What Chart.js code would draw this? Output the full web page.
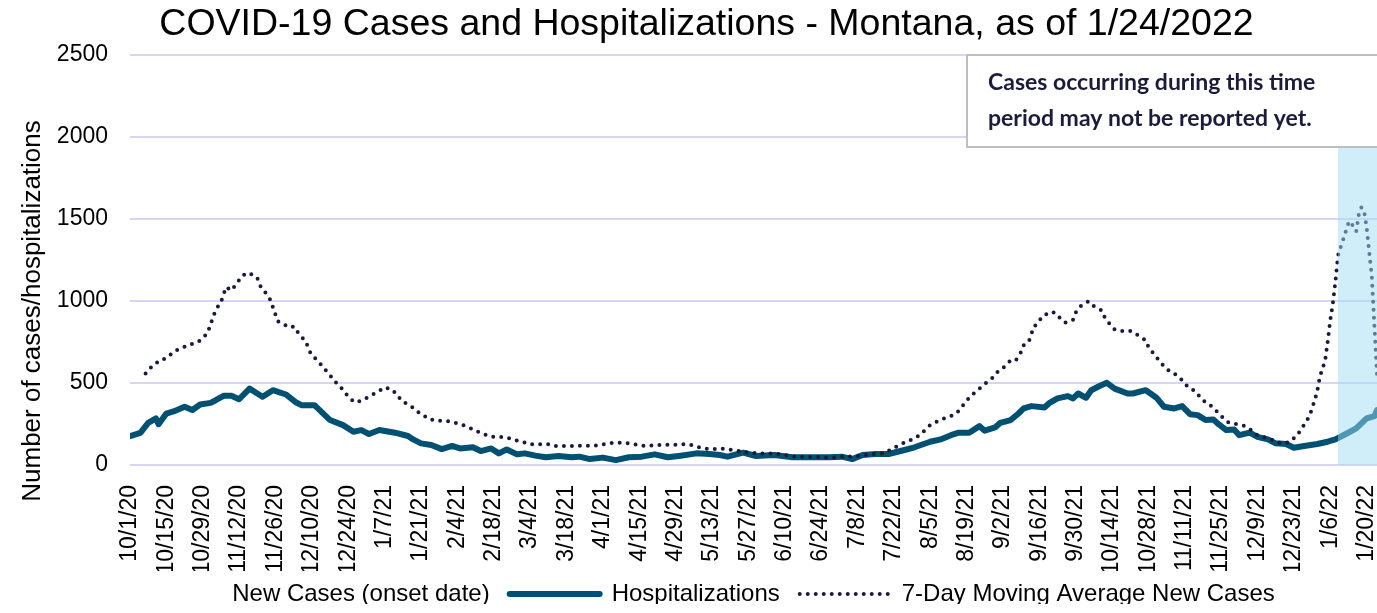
<!DOCTYPE html>
<html>
<head>
<meta charset="utf-8">
<title>COVID-19 Cases and Hospitalizations - Montana</title>
<script src="https://cdn.jsdelivr.net/npm/chart.js@4.4.1/dist/chart.umd.min.js"></script>
<style>
  html, body { margin: 0; padding: 0; background: #fff; }
  #wrap { width: 1377px; height: 613px; }
</style>
</head>
<body>
<div id="wrap"><canvas id="covidChart" width="1377" height="613"></canvas></div>
<script>
// x values are days since 10/1/20 (day 480 = 1/24/22)
const tickLabels = [
  '10/1/20', '10/15/20', '10/29/20', '11/12/20', '11/26/20', '12/10/20', '12/24/20',
  '1/7/21', '1/21/21', '2/4/21', '2/18/21', '3/4/21', '3/18/21', '4/1/21', '4/15/21',
  '4/29/21', '5/13/21', '5/27/21', '6/10/21', '6/24/21', '7/8/21', '7/22/21', '8/5/21',
  '8/19/21', '9/2/21', '9/16/21', '9/30/21', '10/14/21', '10/28/21', '11/11/21',
  '11/25/21', '12/9/21', '12/23/21', '1/6/22', '1/20/22'
];
const lastDay = 480;
const shadeFromDay = 465; // last ~2 weeks, not fully reported yet

// new cases bars are white in the original (invisible), values not readable
const newCases = [];

const hospDays = [
  0, 4, 7, 10, 11, 14, 17, 21, 24, 27,
  31, 33, 36, 39, 42, 46, 49, 51, 55, 60,
  64, 66, 71, 73, 77, 82, 86, 89, 92, 96,
  102, 107, 109, 112, 116, 120, 124, 127, 132, 135,
  139, 142, 145, 149, 152, 156, 160, 165, 170, 173,
  177, 182, 187, 192, 197, 202, 207, 212, 218, 223,
  227, 230, 236, 241, 248, 255, 261, 269, 274, 278,
  282, 287, 292, 297, 302, 308, 312, 316, 319, 323,
  327, 329, 333, 335, 339, 342, 344, 347, 352, 354,
  357, 361, 363, 365, 368, 370, 373, 376, 379, 384,
  386, 391, 395, 398, 402, 405, 408, 411, 414, 417,
  419, 422, 425, 427, 431, 434, 438, 441, 445, 448,
  452, 457, 461, 464, 468, 472, 476, 479, 480
];
const hospValues = [
  176, 196, 257, 284, 249, 314, 328, 355, 335, 369,
  379, 395, 422, 422, 401, 466, 436, 416, 456, 430,
  381, 365, 365, 335, 274, 243, 203, 213, 189, 213,
  197, 177, 156, 132, 122, 97, 116, 101, 108, 85,
  101, 71, 95, 65, 71, 57, 47, 55, 47, 51,
  36, 45, 30, 47, 51, 65, 47, 57, 71, 67,
  61, 51, 75, 55, 61, 47, 47, 47, 51, 36,
  61, 67, 67, 87, 108, 142, 156, 182, 197, 197,
  237, 209, 229, 257, 274, 314, 345, 359, 351, 379,
  406, 420, 406, 436, 410, 456, 480, 501, 466, 436,
  436, 456, 412, 355, 345, 359, 310, 304, 274, 278,
  249, 213, 217, 182, 197, 172, 156, 132, 128, 105,
  116, 128, 142, 156, 189, 223, 284, 298, 335
];

const avgDays = [
  6, 8, 11, 12, 15, 17, 20, 23, 26, 28,
  30, 31, 32, 33, 35, 36, 37, 39, 41, 43,
  45, 47, 49, 50, 52, 54, 55, 56, 57, 59,
  62, 63, 64, 66, 68, 69, 71, 73, 75, 77,
  79, 81, 83, 85, 87, 90, 93, 96, 98, 101,
  103, 105, 108, 110, 113, 115, 118, 121, 124, 127,
  130, 133, 136, 139, 141, 145, 148, 151, 154, 157,
  161, 163, 167, 170, 173, 176, 179, 182, 185, 189,
  192, 195, 198, 201, 204, 207, 210, 214, 217, 220,
  223, 226, 229, 232, 236, 239, 242, 245, 248, 251,
  255, 258, 261, 264, 267, 271, 274, 277, 280, 283,
  286, 290, 292, 295, 298, 301, 304, 306, 308, 311,
  314, 317, 319, 321, 323, 325, 328, 330, 332, 334,
  337, 339, 341, 343, 344, 346, 347, 348, 349, 351,
  354, 356, 358, 360, 363, 364, 366, 369, 371, 374,
  375, 377, 379, 382, 385, 388, 391, 392, 394, 396,
  398, 400, 403, 405, 407, 410, 412, 414, 417, 419,
  421, 423, 426, 429, 432, 434, 437, 440, 443, 446,
  449, 450, 452, 454, 455, 456, 457, 458, 459, 460,
  461, 462, 463, 464, 465, 466, 467, 468, 469, 470,
  471, 472, 473, 474, 475, 476, 477, 478, 479, 480
];
const avgValues = [
  558, 594, 633, 635, 665, 693, 714, 734, 750, 770,
  811, 858, 902, 947, 993, 1040, 1085, 1064, 1105, 1150,
  1172, 1162, 1140, 1095, 1054, 1008, 963, 918, 876, 858,
  838, 846, 821, 785, 740, 695, 655, 622, 584, 547,
  507, 476, 436, 400, 381, 400, 426, 452, 473, 460,
  422, 385, 363, 332, 304, 280, 270, 270, 262, 249,
  233, 209, 189, 172, 172, 168, 152, 142, 126, 126,
  126, 116, 116, 116, 118, 118, 118, 126, 134, 136,
  132, 124, 116, 120, 122, 124, 124, 128, 118, 103,
  98, 97, 99, 91, 81, 75, 71, 69, 71, 63,
  53, 51, 47, 51, 45, 45, 51, 51, 55, 61,
  67, 71, 87, 112, 136, 156, 182, 213, 243, 268,
  288, 304, 330, 371, 410, 440, 480, 507, 531, 568,
  604, 639, 639, 689, 730, 754, 801, 847, 856, 902,
  933, 929, 896, 868, 886, 929, 969, 998, 969, 943,
  906, 862, 827, 817, 817, 791, 760, 720, 679, 639,
  602, 574, 547, 517, 480, 450, 412, 381, 351, 314,
  284, 257, 249, 239, 209, 182, 168, 152, 132, 138,
  176, 199, 247, 298, 345, 395, 450, 537, 588, 633,
  750, 882, 984, 1120, 1277, 1328, 1375, 1425, 1474, 1486,
  1443, 1425, 1527, 1571, 1551, 1450, 1298, 1150, 850, 550
];

const font = "'Liberation Sans', Arial, sans-serif";
Chart.defaults.font.family = font;
Chart.defaults.color = '#000';

// white box with the note, light blue shading over the recent days, y title
const extras = {
  id: 'extras',
  afterLayout(chart) {
    chart.titleBlock.left += 18;
    chart.titleBlock.right += 18;
    const lg = chart.legend;
    lg.left += 14;
    lg.right += 14;
    lg.top -= 9;
    lg.bottom -= 9;
  },
  afterDatasetsDraw(chart) {
    const ctx = chart.ctx;
    const area = chart.chartArea;
    const x = chart.scales.x;
    const boxLeft = 967, boxBottom = 147;

    ctx.save();
    const sx = x.getPixelForValue(shadeFromDay);
    ctx.fillStyle = 'rgba(160, 222, 245, 0.5)';
    ctx.fillRect(sx, boxBottom + 1, area.right - sx + 2, area.bottom - boxBottom - 1);

    ctx.fillStyle = '#fff';
    ctx.fillRect(boxLeft, area.top, chart.width - boxLeft + 5, boxBottom - area.top);
    ctx.strokeStyle = '#bfbfbf';
    ctx.lineWidth = 2;
    ctx.strokeRect(boxLeft, area.top, chart.width - boxLeft + 5, boxBottom - area.top);

    ctx.fillStyle = '#1c1b3c';
    ctx.font = "bold 23px Lato, 'Open Sans', sans-serif";
    ctx.textAlign = 'left';
    ctx.textBaseline = 'alphabetic';
    ctx.fillText('Cases occurring during this time', boxLeft + 21, 90);
    ctx.fillText('period may not be reported yet.', boxLeft + 21, 126);
    ctx.restore();
  },
  afterDraw(chart) {
    const ctx = chart.ctx;
    ctx.save();
    ctx.translate(33, 311);
    ctx.rotate(-Math.PI / 2);
    ctx.fillStyle = '#000';
    ctx.font = '26px ' + font;
    ctx.textAlign = 'center';
    ctx.textBaseline = 'middle';
    ctx.fillText('Number of cases/hospitalizations', 0, 0);
    ctx.restore();
  }
};

const chart = document.querySelector('#covidChart');
new Chart(chart, {
  type: 'line',
  data: {
    datasets: [{
      type: 'bar',
      label: 'New Cases (onset date)',
      data: newCases,
      backgroundColor: '#ffffff',
      borderWidth: 0,
      order: 2
    }, {
      label: 'Hospitalizations',
      data: hospDays.map((d, i) => ({ x: d, y: hospValues[i] })),
      borderColor: '#005072',
      borderWidth: 6,
      borderJoinStyle: 'round',
      borderCapStyle: 'round',
      pointRadius: 0,
      tension: 0,
      order: 1
    }, {
      label: '7-Day Moving Average New Cases',
      data: avgDays.map((d, i) => ({ x: d, y: avgValues[i] })),
      borderColor: '#1b1a3b',
      borderWidth: 4,
      borderDash: [0, 8],
      borderCapStyle: 'round',
      pointRadius: 0,
      tension: 0,
      order: 0
    }]
  },
  options: {
    responsive: false,
    animation: false,
    layout: { padding: 0 },
    scales: {
      x: {
        type: 'linear',
        min: 0,
        max: lastDay,
        offset: false,
        grid: { display: false },
        border: { display: false },
        afterBuildTicks: function(scale) {
          // one label every 14 days
          scale.ticks = tickLabels.map((t, i) => ({ value: i * 14 }));
        },
        afterFit: function(scale) {
          scale.height = 106;
          scale.paddingLeft = 0;
          scale.paddingRight = 0;
        },
        ticks: {
          autoSkip: false,
          minRotation: 90,
          maxRotation: 90,
          padding: 12,
          font: { size: 23 },
          color: '#000',
          callback: function(value) {
            return tickLabels[Math.round(value / 14)];
          }
        }
      },
      y: {
        min: 0,
        max: 2500,
        border: { display: false },
        grid: { color: '#d9d4f2', lineWidth: 2, drawTicks: false },
        afterFit: function(scale) {
          scale.width = 130;
        },
        ticks: {
          stepSize: 500,
          padding: 22,
          font: { size: 23 },
          color: '#000',
          callback: function(value) {
            return String(value);
          }
        }
      }
    },
    plugins: {
      title: {
        display: true,
        text: 'COVID-19 Cases and Hospitalizations - Montana, as of 1/24/2022',
        font: { size: 37.5, weight: 'normal' },
        color: '#000',
        padding: { top: 2, bottom: 8 }
      },
      legend: {
        position: 'bottom',
        maxHeight: 42,
        labels: {
          usePointStyle: true,
          pointStyleWidth: 90,
          padding: 20,
          font: { size: 24 },
          color: '#000',
          sort: function(a, b) {
            return a.datasetIndex - b.datasetIndex;
          },
          generateLabels: function(chart) {
            const items = Chart.defaults.plugins.legend.labels.generateLabels(chart);
            items.forEach(item => {
              const ds = chart.data.datasets[item.datasetIndex];
              if (ds.type === 'bar') {
                item.pointStyle = 'rect';
                item.fillStyle = '#ffffff';
                item.strokeStyle = '#ffffff';
                item.lineWidth = 0;
              } else {
                item.pointStyle = 'line';
                item.strokeStyle = ds.borderColor;
                item.lineWidth = ds.borderWidth;
                item.lineDash = ds.borderDash || [];
                item.lineCap = ds.borderCapStyle || 'butt';
              }
            });
            return items;
          }
        }
      },
      tooltip: { enabled: false }
    }
  },
  plugins: [extras]
});
</script>
</body>
</html>
